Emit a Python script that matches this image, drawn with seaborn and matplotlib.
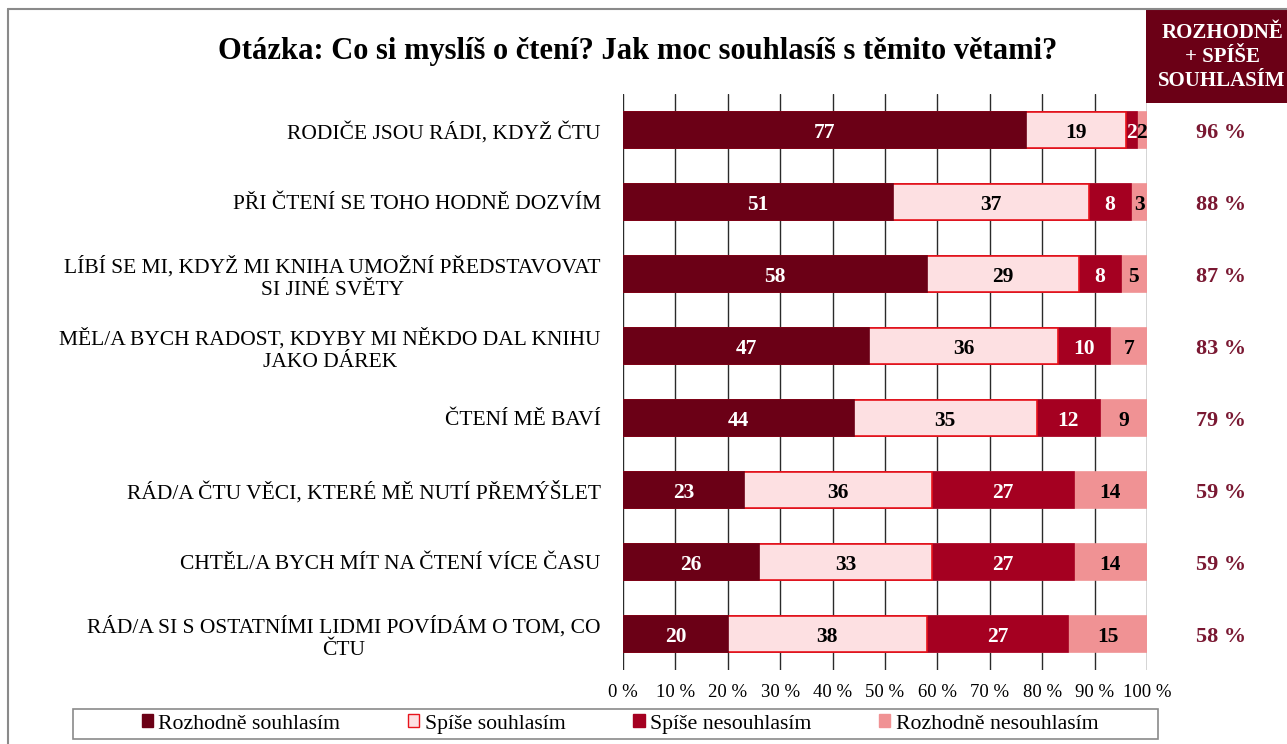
import matplotlib
matplotlib.use('Agg')
import matplotlib.pyplot as plt
import matplotlib.patches as mpatches
import matplotlib.transforms as mtransforms
import pandas as pd
import seaborn as sns

# Statements (y categories)
categories = [
    'RODIČE JSOU RÁDI, KDYŽ ČTU',
    'PŘI ČTENÍ SE TOHO HODNĚ DOZVÍM',
    'LÍBÍ SE MI, KDYŽ MI KNIHA UMOŽNÍ PŘEDSTAVOVAT\nSI JINÉ SVĚTY',
    'MĚL/A BYCH RADOST, KDYBY MI NĚKDO DAL KNIHU\nJAKO DÁREK',
    'ČTENÍ MĚ BAVÍ',
    'RÁD/A ČTU VĚCI, KTERÉ MĚ NUTÍ PŘEMÝŠLET',
    'CHTĚL/A BYCH MÍT NA ČTENÍ VÍCE ČASU',
    'RÁD/A SI S OSTATNÍMI LIDMI POVÍDÁM O TOM, CO\nČTU',
]

# Answer shares in %
rozhodne_souhlasim = [77, 51, 58, 47, 44, 23, 26, 20]
spise_souhlasim = [19, 37, 29, 36, 35, 36, 33, 38]
spise_nesouhlasim = [2, 8, 8, 10, 12, 27, 27, 27]
rozhodne_nesouhlasim = [2, 3, 5, 7, 9, 14, 14, 15]

# Right column: rozhodně + spíše souhlasím
souhlas_celkem = [96, 88, 87, 83, 79, 59, 59, 58]

series_names = ['Rozhodně souhlasím', 'Spíše souhlasím', 'Spíše nesouhlasím', 'Rozhodně nesouhlasím']
colors = ['#6b0016', '#fde0e2', '#a50021', '#f09294']
edge_colors = ['#6b0016', '#e8141c', '#a50021', '#f09294']
text_colors = ['white', 'black', 'white', 'black']

df = pd.DataFrame({
    'label': categories,
    series_names[0]: rozhodne_souhlasim,
    series_names[1]: spise_souhlasim,
    series_names[2]: spise_nesouhlasim,
    series_names[3]: rozhodne_nesouhlasim,
})
# bars always fill the whole 100 % width
totals = df[series_names].sum(axis=1)
norm = df[series_names].div(totals, axis=0) * 100
cum = norm.cumsum(axis=1)
for s in series_names:
    df['cum_' + s] = cum[s]

sns.set_style('white')
plt.rcParams['font.family'] = ['Liberation Serif', 'DejaVu Serif']
plt.rcParams['text.color'] = 'black'
plt.rcParams['xtick.color'] = 'black'
plt.rcParams['ytick.color'] = 'black'

fig = plt.figure(figsize=(12.87, 7.44), dpi=100)
ax = fig.add_axes([623 / 1287, 1 - 670 / 744, 524 / 1287, 576 / 744])

# stacked bars: draw cumulative widths from the longest to the shortest
for i in reversed(range(4)):
    s = series_names[i]
    sns.barplot(data=df, x='cum_' + s, y='label', orient='h', color=colors[i],
                width=0.5, errorbar=None, saturation=1, ax=ax,
                edgecolor=edge_colors[i], linewidth=1.2)

# value labels in the middle of each segment
for i, s in enumerate(series_names):
    left = cum[s] - norm[s]
    for row in range(len(categories)):
        ax.text(left[row] + norm[s][row] / 2, row, str(df[s][row]),
                ha='center', va='center_baseline', fontsize=15.5, fontweight='bold',
                color=text_colors[i])

ax.set_xlim(0, 100)
ax.set_ylim(7.5, -0.5)
ax.set_xticks(range(0, 101, 10))
ax.set_xticklabels([f'{t} %' for t in range(0, 101, 10)], fontsize=13.5)
ax.set_yticks(range(len(categories)))
ax.set_yticklabels(categories, fontsize=15.5, multialignment='center', linespacing=1.25)
ax.tick_params(axis='y', length=0, pad=16)
ax.tick_params(axis='x', length=0, pad=10)
ax.set_xlabel('')
ax.set_ylabel('')
ax.xaxis.grid(True, color='#2a2a2a', linewidth=1)
ax.set_axisbelow(True)
for sp in ax.spines.values():
    sp.set_visible(False)

# title
fig.text(638 / 1287, 1 - 51 / 744,
         'Otázka: Co si myslíš o čtení? Jak moc souhlasíš s těmito větami?',
         ha='center', va='center', fontsize=22, fontweight='bold')

# outer frame lines
fig.add_artist(plt.Line2D([8 / 1287, 8 / 1287], [0, 1 - 9 / 744], color='#8a8a8a',
                          lw=1.5, transform=fig.transFigure))
fig.add_artist(plt.Line2D([8 / 1287, 1], [1 - 9 / 744, 1 - 9 / 744], color='#8a8a8a',
                          lw=1.5, transform=fig.transFigure))

# header box on the right
fig.add_artist(mpatches.Rectangle((1146 / 1287, 1 - 103 / 744), 141 / 1287, 93 / 744,
                                  transform=fig.transFigure, facecolor='#6b0016',
                                  edgecolor='none'))
fig.text(1222 / 1287, 1 - 57 / 744, 'ROZHODNĚ\n+ SPÍŠE\nSOUHLASÍM', ha='center',
         va='center', color='white', fontsize=15, fontweight='bold', linespacing=1.3)

# agreement totals
tr = mtransforms.blended_transform_factory(fig.transFigure, ax.transData)
for row, v in enumerate(souhlas_celkem):
    fig.text(1221 / 1287, row, f'{v} %', transform=tr, ha='center', va='center_baseline',
             fontsize=16, fontweight='bold', color='#7a1832')

# legend
fig.add_artist(mpatches.Rectangle((73 / 1287, 1 - 739 / 744), 1085 / 1287, 30 / 744,
                                  transform=fig.transFigure, facecolor='white',
                                  edgecolor='#8a8a8a', lw=1.2))
handles = [mpatches.Patch(facecolor=colors[i], edgecolor=edge_colors[i], label=series_names[i])
           for i in range(4)]
fig.legend(handles=handles, loc='center', bbox_to_anchor=(620 / 1287, 1 - 724 / 744),
           ncol=4, frameon=False, fontsize=15.7, handlelength=0.52, handleheight=0.52,
           handletextpad=0.25, columnspacing=3.1)

fig.savefig('out.png', dpi=100)
